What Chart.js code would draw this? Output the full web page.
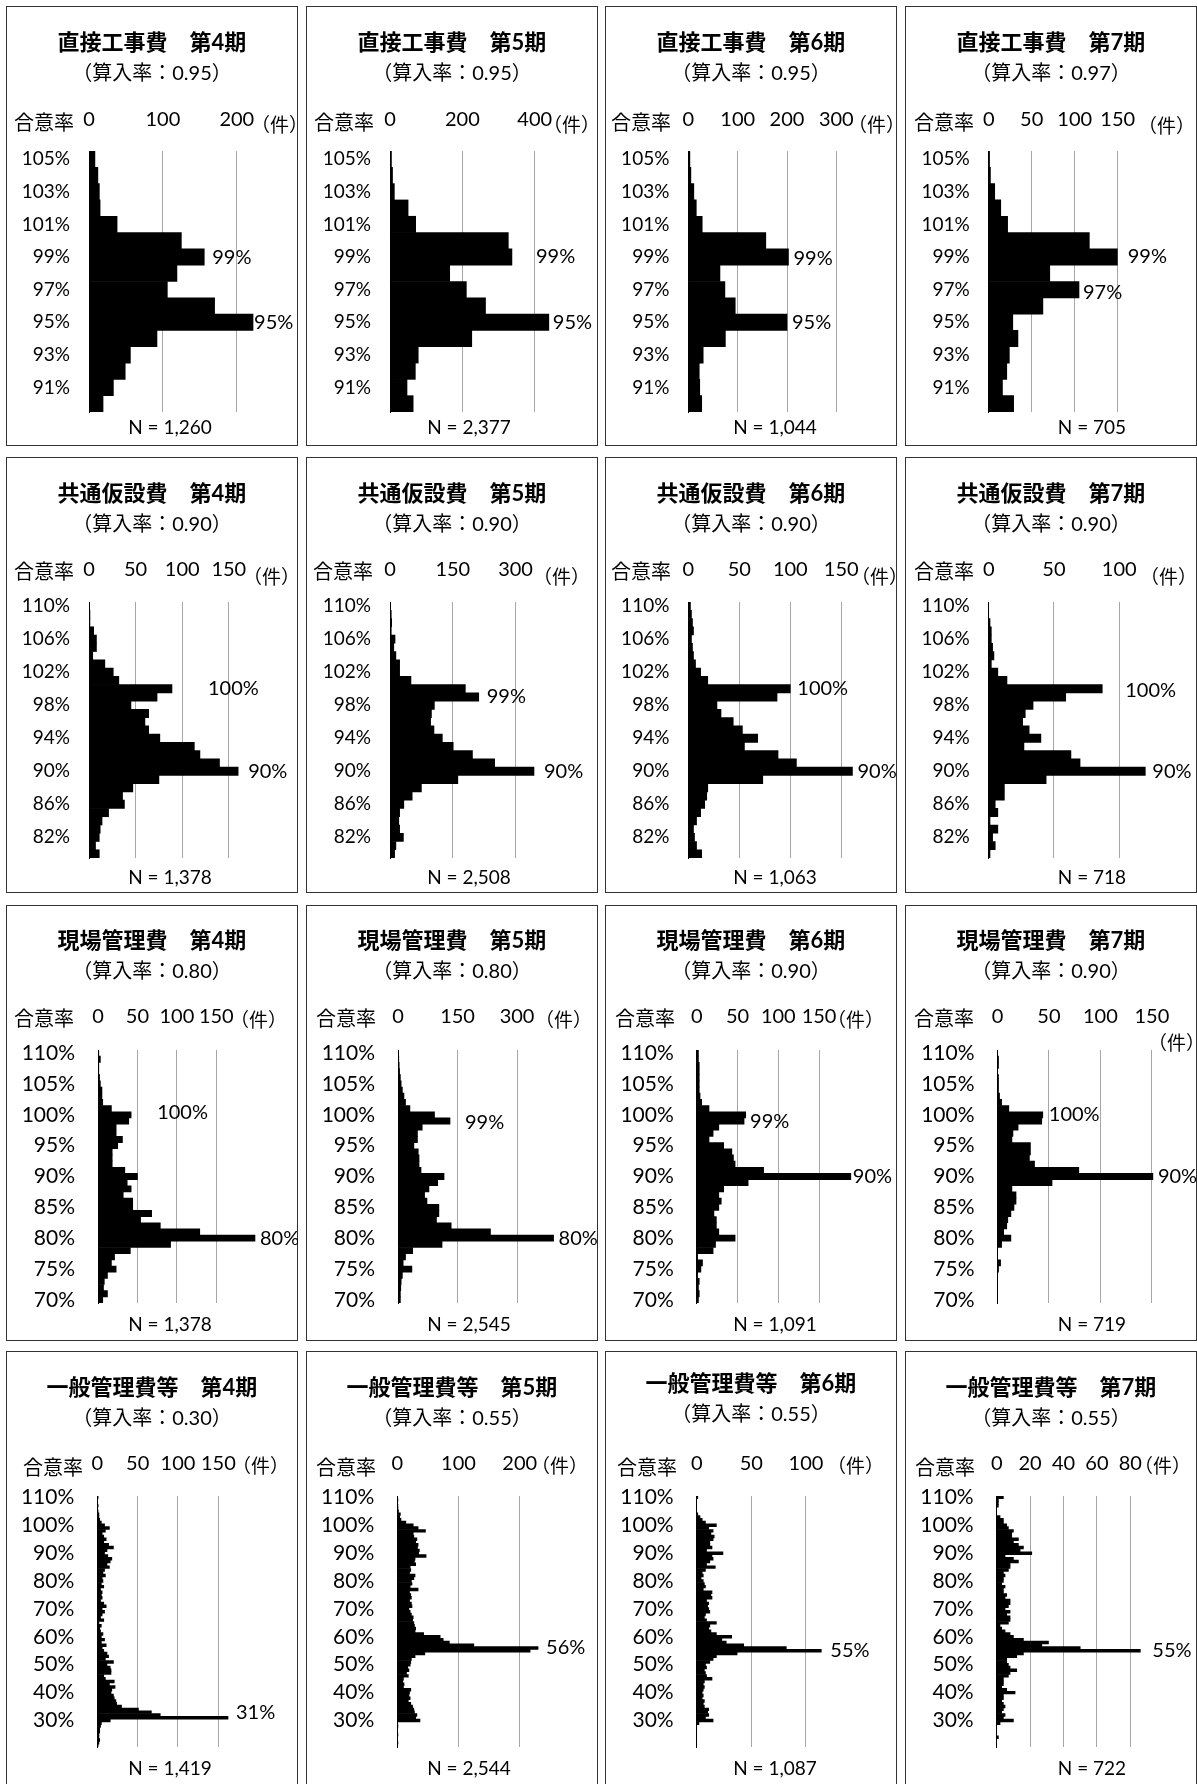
<!DOCTYPE html>
<html lang="ja">
<head>
<meta charset="UTF-8">
<title>合意率の分布（第4期～第7期）</title>
<script src="https://cdn.jsdelivr.net/npm/chart.js"></script>
<style>
  body { margin: 0; background: #fff; }
  #sheet { position: relative; width: 1197px; height: 1784px; overflow: hidden; background: #fff;
           font-family: Lato, "Noto Sans CJK JP", sans-serif; color: #000; }
  .panel { position: absolute; width: 292px; box-shadow: inset 0 0 0 1px #333; }
  .panel canvas { position: absolute; left: 0; top: 0; }
  .txt { position: absolute; white-space: nowrap; }
  .ttl { left: 0; width: 292px; text-align: center; font-size: 22px; line-height: 30px; font-weight: 700; }
  .sub { left: 0; width: 292px; text-align: center; font-size: 20px; line-height: 26px; }
  .agree { font-size: 20px; line-height: 26px; }
  .unit { font-size: 19px; line-height: 26px; }
  .num { font-size: 19px; line-height: 24px; width: 160px; text-align: center; }
</style>
</head>
<body>
<div id="sheet"></div>

<script>
// 合意率の階級（上から順）
const rates1 = ['105%','104%','103%','102%','101%','100%','99%','98%','97%','96%','95%','94%','93%','92%','91%','90%'];
const rates2 = ['110%','109%','108%','107%','106%','105%','104%','103%','102%','101%',
                '100%','99%','98%','97%','96%','95%','94%','93%','92%','91%',
                '90%','89%','88%','87%','86%','85%','84%','83%','82%','81%','80%'];
const rates3 = ['110%','109%','108%','107%','106%','105%','104%','103%','102%','101%',
                '100%','99%','98%','97%','96%','95%','94%','93%','92%','91%',
                '90%','89%','88%','87%','86%','85%','84%','83%','82%','81%',
                '80%','79%','78%','77%','76%','75%','74%','73%','72%','71%','70%'];
const rates4 = ['110%','109%','108%','107%','106%','105%','104%','103%','102%','101%',
                '100%','99%','98%','97%','96%','95%','94%','93%','92%','91%',
                '90%','89%','88%','87%','86%','85%','84%','83%','82%','81%',
                '80%','79%','78%','77%','76%','75%','74%','73%','72%','71%',
                '70%','69%','68%','67%','66%','65%','64%','63%','62%','61%',
                '60%','59%','58%','57%','56%','55%','54%','53%','52%','51%',
                '50%','49%','48%','47%','46%','45%','44%','43%','42%','41%',
                '40%','39%','38%','37%','36%','35%','34%','33%','32%','31%',
                '30%','29%','28%','27%','26%','25%','24%','23%','22%','21%'];

// 件数
const direct4 = [8,12,14,15,38,125,156,119,106,170,222,92,56,49,33,19];
const direct5 = [4,7,12,50,71,327,337,165,211,264,439,226,78,70,47,64];
const direct6 = [3,5,11,16,28,157,203,64,74,95,200,75,30,22,23,27];
const direct7 = [1,2,7,14,22,117,150,71,105,63,28,34,24,21,16,29];

const common4 = [0,1,1,5,8,8,4,17,26,32, 89,73,45,64,60,64,76,113,119,140, 160,75,47,36,38,21,14,12,11,7, 11];
const common5 = [1,3,4,3,12,9,14,23,23,50, 180,212,106,99,97,105,125,151,197,250, 344,162,75,53,33,23,21,23,32,14, 11];
const common6 = [2,3,4,5,3,4,5,7,12,19, 100,87,28,32,44,53,68,55,88,106, 161,73,19,18,16,12,8,5,6,8, 13];
const common7 = [0,0,1,2,2,3,4,2,7,14, 87,59,34,28,26,31,40,27,63,70, 120,44,12,12,5,7,1,7,3,5, 1];

const site4 = [1,3,1,1,2,3,5,5,6,17, 42,39,23,23,31,25,18,18,18,34, 50,37,42,32,44,44,68,54,79,129, 199,92,41,21,17,23,12,8,7,12, 6];
const site5 = [1,2,3,4,6,8,11,15,19,30, 92,131,61,49,49,40,51,53,53,58, 116,100,78,67,73,103,103,97,134,233, 392,111,37,19,13,35,11,8,7,6, 6];
const site6 = [2,2,3,3,3,3,3,4,6,15, 60,58,27,20,15,33,43,45,47,82, 189,63,33,27,30,27,21,24,24,27, 47,23,20,1,7,5,1,3,2,3, 2];
const site7 = [0,1,1,0,1,1,1,2,4,11, 44,43,20,15,14,32,32,31,36,79, 151,53,14,18,18,16,13,10,9,6, 13,4,0,0,3,1,0,0,0,0, 0];

const general4 = [1,0,0,1,0,1,2,2,3,5,
                  9,15,10,6,8,11,8,14,20,12,
                  9,13,18,16,12,15,9,7,10,6,
                  7,5,8,4,6,5,6,4,8,11,
                  6,9,6,4,8,2,5,3,4,7,
                  5,9,5,11,6,8,12,14,10,20,
                  12,16,17,17,8,10,21,15,22,18,
                  17,20,21,23,24,30,51,67,78,162,
                  16,5,4,3,3,2,2,3,2,1];
const general5 = [0,1,0,1,1,2,5,4,6,14,
                  26,34,46,26,27,32,30,34,33,36,
                  35,47,29,28,30,21,22,20,29,27,
                  23,24,21,34,20,22,23,20,23,24,
                  19,21,23,26,25,27,28,30,29,43,
                  70,75,85,125,230,217,45,29,23,22,
                  21,17,19,15,18,10,9,11,10,22,
                  20,19,21,18,22,25,27,28,32,30,
                  37,0,1,0,0,1,0,0,1,0];
const general6 = [1,0,0,0,0,0,1,3,5,8,
                  18,11,15,13,16,15,12,12,14,9,
                  24,14,15,12,9,17,8,5,6,4,
                  6,7,8,6,14,13,14,9,11,10,
                  11,12,8,7,9,18,12,11,13,18,
                  32,23,27,43,82,114,37,18,15,12,
                  8,9,7,8,9,14,7,6,7,6,
                  5,6,5,7,6,7,11,10,11,8,
                  15,2,0,0,0,0,0,0,0,0];
const general7 = [4,1,1,1,0,0,0,2,4,4,
                  6,7,10,9,9,13,10,13,16,14,
                  21,5,10,13,8,8,7,4,5,4,
                  4,3,5,4,4,6,5,8,8,7,
                  5,8,6,8,8,7,2,3,5,8,
                  10,16,31,27,50,86,16,12,6,6,
                  7,8,12,8,7,4,4,4,3,6,
                  11,4,4,3,4,5,4,3,5,4,
                  10,2,0,0,0,0,1,0,0,0];

const titles = ['直接工事費', '共通仮設費', '現場管理費', '一般管理費等'];
const periods = ['第4期', '第5期', '第6期', '第7期'];
const sanRates = ['0.95','0.95','0.95','0.97', '0.90','0.90','0.90','0.90',
                  '0.80','0.80','0.90','0.90', '0.30','0.55','0.55','0.55'];
const nLabels = ['1,260','2,377','1,044','705', '1,378','2,508','1,063','718',
                 '1,378','2,545','1,091','719', '1,419','2,544','1,087','722'];
const tickSets = [[0,100,200],[0,200,400],[0,100,200,300],[0,50,100,150],
                  [0,50,100,150],[0,150,300],[0,50,100,150],[0,50,100],
                  [0,50,100,150],[0,150,300],[0,50,100,150],[0,50,100,150],
                  [0,50,100,150],[0,100,200],[0,50,100],[0,20,40,60,80]];
const axisMax = [270,500,300,150, 190,420,175,140, 205,420,195,155, 175,250,125,90];
const peakSets = [['99%','95%'],['99%','95%'],['99%','95%'],['99%','97%'],
                  ['100%','90%'],['99%','90%'],['100%','90%'],['100%','90%'],
                  ['100%','80%'],['99%','80%'],['99%','90%'],['100%','90%'],
                  ['31%'],['56%'],['55%'],['55%']];

const rateSets = [rates1, rates2, rates3, rates4];
const series = [direct4, direct5, direct6, direct7, common4, common5, common6, common7,
                site4, site5, site6, site7, general4, general5, general6, general7];

// レイアウト（px、パネル左上基準）
const panelLeft = [6, 306, 605, 905];
const panelTop = [6, 457, 905, 1351];
const panelH = [440, 436, 436, 440];
const plotTop = 145;
const plotBottom = [406, 401, 398, 396];
const labelEvery = [2, 4, 5, 10];
const yFont = [19, 19, 21, 21];
const yPad = [11, 11, 15, 15];
const xPad = [19, 20, 21, 20];
const zeroX = [83,84,83.4,83.7, 83,84,83.4,83.7, 92,92,91.8,92.5, 91.3,91.3,91.7,91.7];
const plotRight = [282.5,264.9,231.3,212.7, 260.1,259.8,261.7,266.4, 253.7,258.7,250.7,252, 232.5,244.3,228.3,242];
const peakDx = [[8,1],[24,4],[5,5],[10,4], [36,10],[8,10],[7,5],[23,7], [26,5],[15,5],[6,2],[6,5], [8],[8],[9],[12]];
const peakDy = [[1,0],[0,0],[2,0],[0,3], [0,0],[0,0],[0,0],[2,0], [-2,0],[2,0],[1,0],[0,0], [-5],[0],[0],[0]];
const unitX = [255,247,253,243, 247,237,256,245, 234,239,232,253, 236,235,232,239];
const unitY = [119,119,119,120, 120,120,120,120, 115,115,115,138, 115,115,115,115];
const agreeX = [9,9,7,10, 9,8,7,10, 9,11,11,10, 18,11,13,11];
const agreeY = [116,114,113,116];
const titleY = [36,36,35,36];
const subY = [66,66,65,66];
const titleShift = [0,0,0,0, 0,0,0,0, 0,0,0,0, 0,0,-4,0];
const nX = [164,163,170,187];
const nY = [421,419.5,419,417];

// ピークの棒の先に合意率を書く
const peakLabels = {
  id: 'peakLabels',
  afterDatasetsDraw(chart, args, opts) {
    const ctx = chart.ctx;
    const meta = chart.getDatasetMeta(0);
    const cats = chart.data.labels;
    ctx.save();
    ctx.font = '20px Lato, "Noto Sans CJK JP", sans-serif';
    ctx.fillStyle = '#000';
    ctx.textAlign = 'left';
    ctx.textBaseline = 'middle';
    opts.marks.forEach((m, j) => {
      const bar = meta.data[cats.indexOf(m)];
      ctx.fillText(m, bar.x + opts.dx[j], bar.y + opts.dy[j]);
    });
    ctx.restore();
  }
};

const sheet = document.getElementById('sheet');

for (let k = 0; k < 16; k++) {
  const row = Math.floor(k / 4), col = k % 4;
  const h = panelH[row];
  const box = document.createElement('div');
  box.className = 'panel';
  box.style.left = panelLeft[col] + 'px';
  box.style.top = panelTop[row] + 'px';
  box.style.height = h + 'px';

  const cv = document.createElement('canvas');
  cv.width = 292;
  cv.height = h;
  box.appendChild(cv);

  box.insertAdjacentHTML('beforeend',
    `<div class="txt ttl" style="top:${titleY[row] + titleShift[k] - 15}px">${titles[row]}　${periods[col]}</div>` +
    `<div class="txt sub" style="top:${subY[row] + titleShift[k] - 13}px">（算入率：${sanRates[k]}）</div>` +
    `<div class="txt agree" style="left:${agreeX[k] - 1}px;top:${agreeY[row] - 13}px">合意率</div>` +
    `<div class="txt unit" style="left:${unitX[k] - 10}px;top:${unitY[k] - 13}px">（件）</div>` +
    `<div class="txt num" style="left:${nX[col] - 80}px;top:${nY[row] - 12}px">N = ${nLabels[k]}</div>`);
  sheet.appendChild(box);

  new Chart(cv, {
    type: 'bar',
    data: {
      labels: rateSets[row],
      datasets: [{
        data: series[k],
        backgroundColor: '#000',
        borderWidth: 0,
        barPercentage: 1,
        categoryPercentage: 1
      }]
    },
    options: {
      indexAxis: 'y',
      responsive: false,
      animation: false,
      devicePixelRatio: 1,
      layout: { padding: { left: 0, top: 0, right: 292 - plotRight[k], bottom: h - plotBottom[row] } },
      plugins: {
        legend: { display: false },
        tooltip: { enabled: false },
        peakLabels: { marks: peakSets[k], dx: peakDx[k], dy: peakDy[k] }
      },
      scales: {
        x: {
          position: 'top',
          min: 0,
          max: axisMax[k],
          afterFit: s => { s.height = plotTop; },
          afterBuildTicks: s => { s.ticks = tickSets[k].map(v => ({ value: v })); },
          grid: {
            drawTicks: false,
            color: c => (c.tick && c.tick.value === 0) ? 'rgba(0,0,0,0)' : '#a6a6a6'
          },
          border: { display: false },
          ticks: { padding: xPad[row], color: '#000', font: { size: 20, family: 'Lato, "Noto Sans CJK JP", sans-serif' } }
        },
        y: {
          afterFit: s => { s.width = zeroX[k]; },
          grid: { display: false },
          border: { display: true, color: '#000', width: 1 },
          ticks: {
            autoSkip: false,
            padding: yPad[row],
            color: '#000',
            font: { size: yFont[row], family: 'Lato, "Noto Sans CJK JP", sans-serif' },
            callback: function (v, i) {
              return i % labelEvery[row] === 0 ? this.getLabelForValue(v) : '';
            }
          }
        }
      }
    },
    plugins: [peakLabels]
  });
}
</script>
</body>
</html>
